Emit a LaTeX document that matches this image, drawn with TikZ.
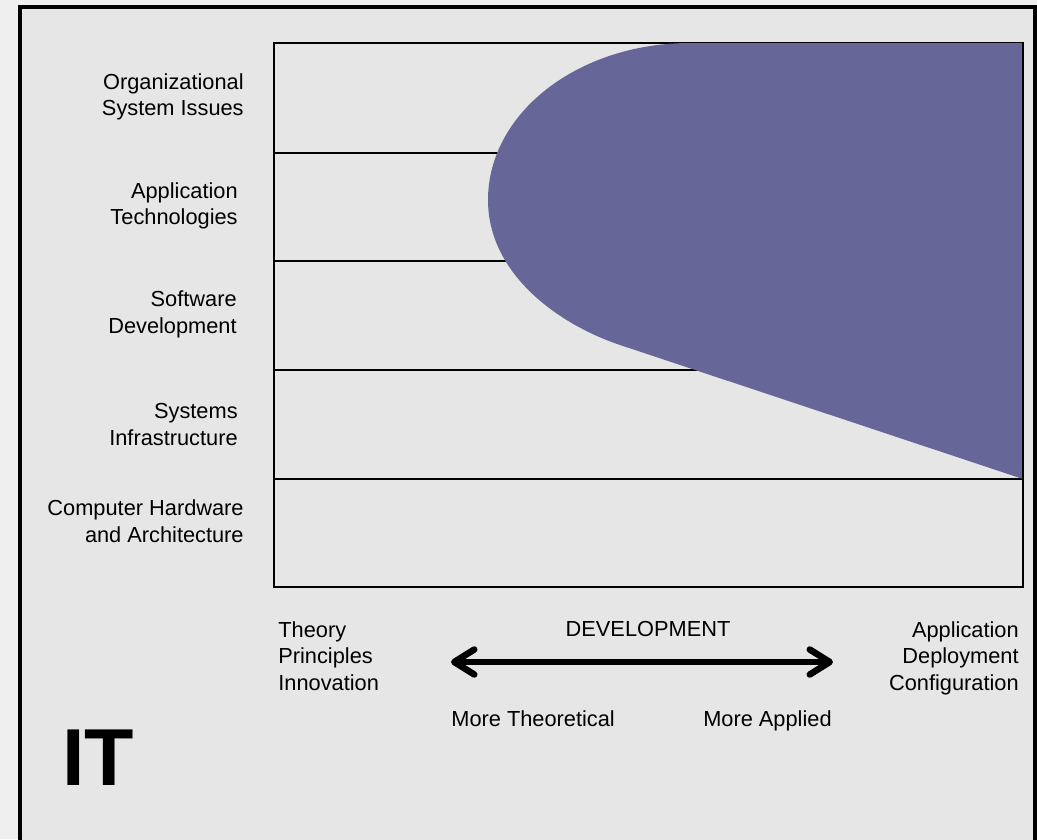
\documentclass[tikz,border=0pt]{standalone}
\usepackage{fontspec}
\setmainfont{Liberation Sans}
\usetikzlibrary{
	arrows.meta,
	positioning,
}
\definecolor{slidebg}{RGB}{239,239,239}
\definecolor{framebg}{RGB}{230,230,230}
\definecolor{bandfill}{RGB}{102,102,153}
\tikzset{layer label/.style={
	draw=none,
	align=right,
	anchor=east,
	inner sep=0mm,
	font=\fontsize{12.4}{15.2}\selectfont,
}}
\tikzset{axis label/.style={
	draw=none,
	inner sep=0mm,
	font=\fontsize{12.4}{15.2}\selectfont,
}}
\tikzset{row line/.style={
	line width=1pt,
	black,
}}
\tikzset{range arrow/.style={
	line width=0.13cm,
	{Straight Barb[length=0.4cm, width=0.5cm, round]}-{Straight Barb[length=0.4cm, width=0.5cm, round]},
}}

\begin{document}
\begin{tikzpicture}[x=0.02cm, y=-0.02cm]

\useasboundingbox (0,0) rectangle (1037,839);
\clip (0,0) rectangle (1037,839);
\fill[slidebg] (0,0) rectangle (1037,839);

% frame
\filldraw[fill=framebg, draw=black, line width=0.08cm] (20,7) rectangle (1035,900);

% rows
\draw[row line] (274,43) rectangle (1023,587);
\foreach \y in {153,261,370,479}
	\draw[row line] (274,\y) -- (1023,\y);

% band
\fill[bandfill] (1023,43) -- (690,43)
	.. controls (578,43) and (488,113) .. (488,200)
	.. controls (488,272) and (555,323) .. (620,345)
	-- (1023,479) -- cycle;
\draw[row line] (1023,43) -- (1023,587);

% layers
\node[layer label](org)  at (244,97)    {Organizational\\System Issues};
\node[layer label](app)  at (238,206)   {Application\\Technologies};
\node[layer label](soft) at (237,314.5) {Software\\Development};
\node[layer label](sys)  at (238,424.5) {Systems\\Infrastructure};
\node[layer label](hw)   at (244,521)   {Computer Hardware\\and Architecture};

% axis
\node[axis label, align=left, anchor=north west](theory) at (278,621) {Theory\\Principles\\Innovation};
\node[axis label, align=right, anchor=north east](applied) at (1019,621) {Application\\Deployment\\Configuration};
\node[axis label, anchor=base](dev) at (648,636) {DEVELOPMENT};
\node[axis label, anchor=base west](moretheo) at (451,726) {More Theoretical};
\node[axis label, anchor=base east](moreappl) at (832,726) {More Applied};

\coordinate (arrowl) at (451,662);
\coordinate (arrowr) at (833,662);

% theory <-> applied
\draw[range arrow] (arrowl) -- (arrowr);

% title
\node[draw=none, inner sep=0mm, anchor=base west, font=\fontsize{46}{46}\selectfont\bfseries](it) at (62,785) {IT};

\end{tikzpicture}
\end{document}
